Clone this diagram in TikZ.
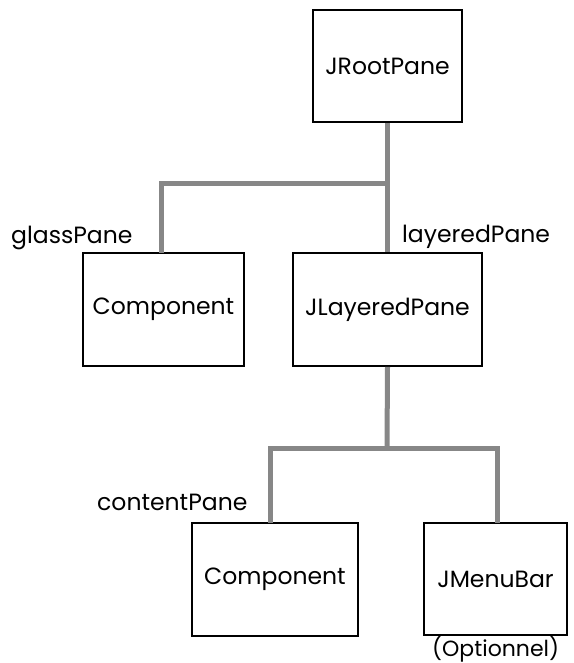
\documentclass[tikz,border=0pt]{standalone}
\usepackage{fontspec}
\setmainfont{Poppins}
\begin{document}
\begin{tikzpicture}[x=1pt,y=-1pt,
  box/.style={draw=black,line width=1.6pt,fill=white,inner sep=0pt,font=\fontsize{23.5}{26}\selectfont},
  lbl/.style={inner sep=0pt,font=\fontsize{23.5}{26}\selectfont},
  link/.style={draw=black!47,line width=5pt,line join=miter}]
\useasboundingbox (0,0) rectangle (573,663);
\node[box,minimum width=149pt,minimum height=112pt] (root) at (387.5,66) {JRootPane};
\node[box,minimum width=161pt,minimum height=113pt] (comp1) at (163.5,309.5) {Component};
\node[box,minimum width=189pt,minimum height=113pt] (layer) at (387.5,309.5) {JLayeredPane};
\node[box,minimum width=166pt,minimum height=113pt] (comp2) at (275,579.5) {Component};
\node[box,minimum width=143pt,minimum height=112pt] (menu) at (495.5,579) {JMenuBar};
\coordinate (j1) at (387,183);
\coordinate (j2) at (387,448);
\draw[link] (root.south) -- (layer.north);
\draw[link] (j1) -| (161,253) coordinate (g1);
\draw[link] (layer.south) -- (j2);
\draw[link] (270,523) coordinate (c1) |- (j2) -| (497,523) coordinate (m1);
\node[lbl,anchor=base west] (glass) at (11,243) {glassPane};
\node[lbl,anchor=base west] (layered) at (402,242) {layeredPane};
\node[lbl,anchor=base west] (content) at (97,510) {contentPane};
\node[lbl,anchor=base west,font=\fontsize{22}{24}\selectfont] (opt) at (432,656) {(Optionnel)};
\end{tikzpicture}
\end{document}
